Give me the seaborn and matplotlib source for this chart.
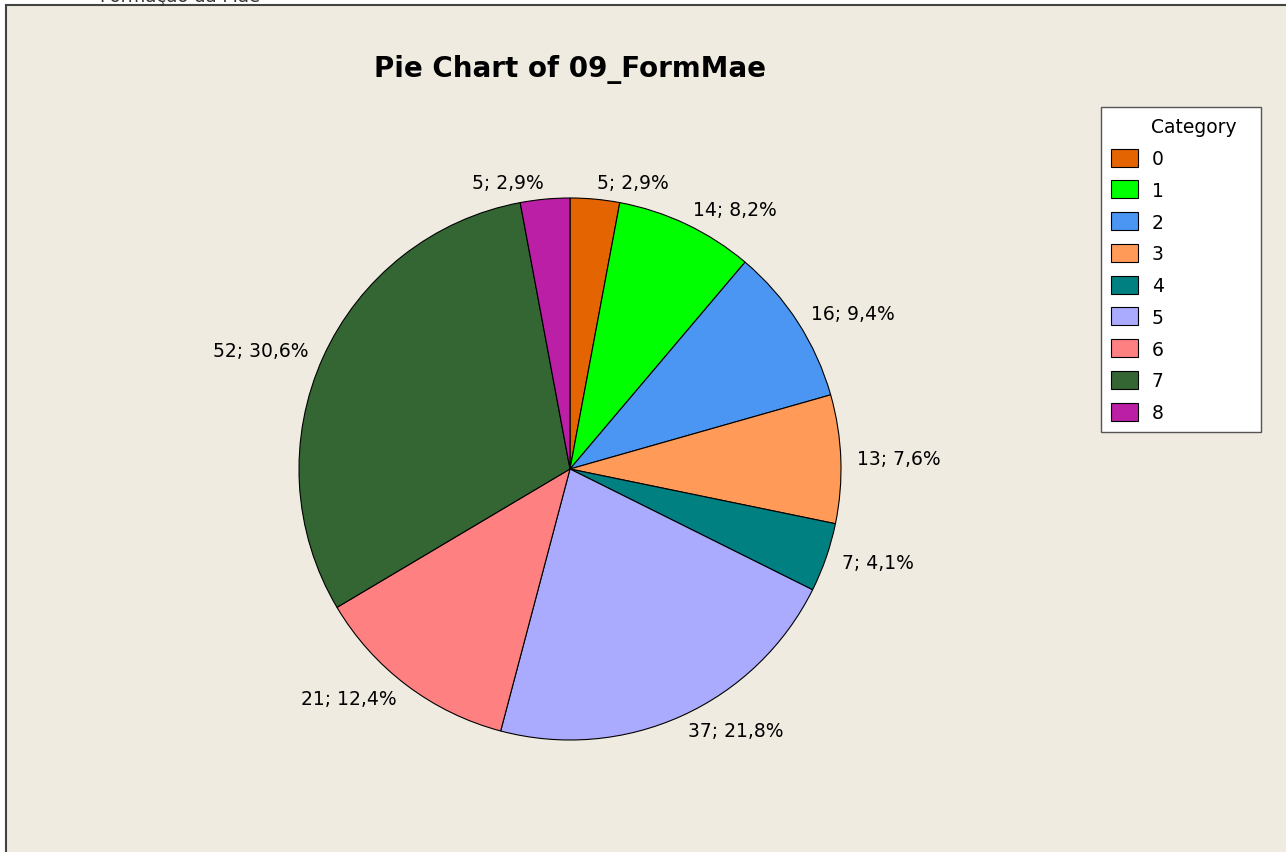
import matplotlib.pyplot as plt
import matplotlib.patches as mpatches
import seaborn as sns

# Data
categories = ['0', '1', '2', '3', '4', '5', '6', '7', '8']
counts = [5, 14, 16, 13, 7, 37, 21, 52, 5]
pct_labels = ['2,9%', '8,2%', '9,4%', '7,6%', '4,1%', '21,8%', '12,4%', '30,6%', '2,9%']
colors = ['#E36400', '#00FF00', '#4A96F2', '#FF9A58', '#008080',
          '#AAAAFF', '#FF8080', '#336633', '#BB1FA5']

sns.set_theme(style='white')
plt.rcParams['font.family'] = ['DejaVu Sans']
plt.rcParams['text.color'] = 'black'

W, H = 1286, 853
fig = plt.figure(figsize=(W / 100, H / 100), dpi=100)
fig.patch.set_facecolor('white')

# beige panel
panel = mpatches.Rectangle((6 / W, -0.05), 1.1, 1 - 6 / H + 0.05,
                           transform=fig.transFigure, facecolor='#F0EBE0',
                           edgecolor='#444444', linewidth=1.5, zorder=-5)
fig.patches.append(panel)

# header text, clipped at the top as in the source image
fig.text(100 / W, 1 - 2 / H, 'Formação da Mãe', fontsize=13, va='baseline',
         ha='left', color='#333333')

# pie axes: centre (570, 470), radius 271 px
cx, cy, r = 570, 470, 271
ax = fig.add_axes([(cx - r) / W, (H - cy - r) / H, 2 * r / W, 2 * r / H])
ax.set_facecolor('none')

labels = [f'{c}; {p}' for c, p in zip(counts, pct_labels)]
wedges, texts = ax.pie(counts, colors=colors, startangle=90, counterclock=False,
                       labels=labels, labeldistance=1.06,
                       wedgeprops=dict(edgecolor='black', linewidth=0.8),
                       textprops=dict(fontsize=13.5, color='black'))
ax.set_xlim(-1, 1)
ax.set_ylim(-1, 1)
ax.set_aspect('equal')
ax.axis('off')

fig.text(cx / W, 1 - 70 / H, 'Pie Chart of 09_FormMae', fontsize=20,
         fontweight='bold', ha='center', va='center', color='black')

handles = [mpatches.Patch(facecolor=c, edgecolor='black', linewidth=0.8, label=k)
           for c, k in zip(colors, categories)]
leg = fig.legend(handles=handles, title='Category', loc='upper left',
                 bbox_to_anchor=(1101 / W, 1 - 108 / H, 160 / W, 0.0),
                 mode='expand', fontsize=13.5,
                 title_fontsize=13.5, frameon=True, fancybox=False, framealpha=1,
                 handlelength=1.4, handleheight=1.1, labelspacing=0.66,
                 handletextpad=0.75, borderpad=0.55, borderaxespad=0)
for t in leg.get_texts():
    t.set_color('black')
leg.get_title().set_color('black')
leg.get_frame().set_facecolor('white')
leg.get_frame().set_edgecolor('#555555')
leg.get_frame().set_linewidth(1.0)
leg._legend_box.align = 'left'
leg.get_title().set_position((40, 0))

fig.savefig('out.png', dpi=100, facecolor=fig.get_facecolor())
